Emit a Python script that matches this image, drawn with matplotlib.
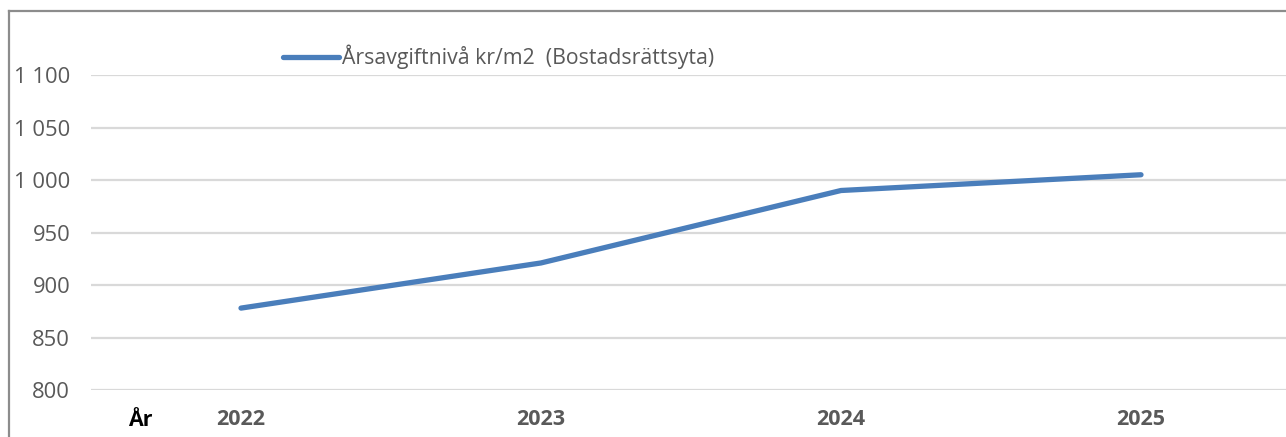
import matplotlib
matplotlib.use("Agg")
import matplotlib.pyplot as plt
from matplotlib.lines import Line2D

years = ["2022", "2023", "2024", "2025"]
values = [878, 921, 990, 1005]
yticks = [800, 850, 900, 950, 1000, 1050, 1100]
ytick_labels = ["800", "850", "900", "950", "1 000", "1 050", "1 100"]
series_name = "Årsavgiftnivå kr/m2  (Bostadsrättsyta)"
x_title = "År"

plt.rcParams['font.family'] = ['Open Sans', 'DejaVu Sans']

W, H = 1286, 437
fig = plt.figure(figsize=(W / 100, H / 100), dpi=100)
ax = fig.add_axes([91 / W, 47 / H, 1200 / W, 315 / H])

x = [i + 0.5 for i in range(len(years))]
line, = ax.plot(x, values, color="#4A7EBB", linewidth=3.8,
                solid_capstyle="round", label=series_name)

ax.set_xlim(0, len(years))
ax.set_ylim(800, 1100)
ax.set_yticks(yticks)
ax.set_yticklabels(ytick_labels)
ax.set_xticks(x)
ax.set_xticklabels(years, fontweight="bold")
ax.tick_params(axis="y", length=0, pad=15, labelsize=15.8, labelcolor="#595959")
ax.tick_params(axis="x", length=0, pad=14, labelsize=15.5, labelcolor="#595959")
ax.grid(axis="y", color="#d9d9d9", linewidth=1.6)
ax.set_axisbelow(True)
for s in ax.spines.values():
    s.set_visible(False)

leg = ax.legend(handles=[line], loc="center left",
                bbox_to_anchor=(283 / W, 1 - 57 / H), bbox_transform=fig.transFigure,
                frameon=False, borderpad=0, borderaxespad=0,
                handlelength=2.65, handletextpad=0.15, fontsize=15.3)
for t in leg.get_texts():
    t.set_color("#595959")

fig.text(140 / W, 1 - 421 / H, x_title, ha="center", va="center",
         fontsize=15.5, fontweight="bold", color="black")

# outer chart border (partially cropped)
fig.add_artist(Line2D([9 / W, 1.0], [1 - 11 / H, 1 - 11 / H],
                      transform=fig.transFigure, color="#8c8c8c", linewidth=1.6))
fig.add_artist(Line2D([9 / W, 9 / W], [0, 1 - 11 / H],
                      transform=fig.transFigure, color="#8c8c8c", linewidth=1.6))

fig.savefig("out.png", dpi=100)
